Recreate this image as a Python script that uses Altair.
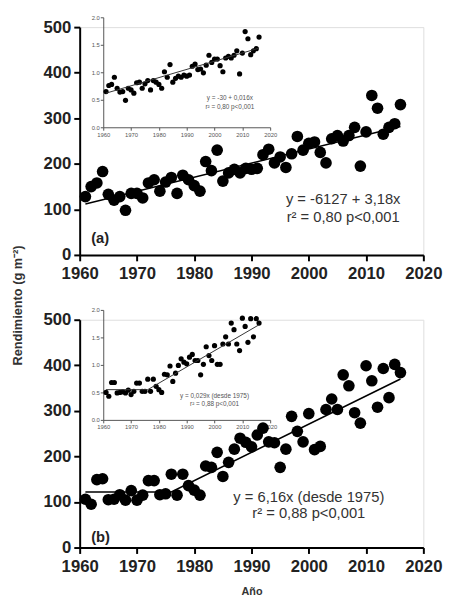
import altair as alt
import pandas as pd

# ---------------- data ----------------
years = list(range(1961, 2017))

a_main = [128, 150, 158, 183, 133, 120, 128, 98, 135, 135,
          125, 158, 165, 140, 160, 170, 135, 175, 165, 152,
          140, 205, 185, 230, 162, 180, 188, 180, 190, 188,
          190, 220, 232, 202, 215, 192, 222, 260, 230, 245,
          248, 225, 202, 255, 262, 250, 262, 280, 195, 270,
          350, 322, 265, 280, 288, 330]

a_inset = [0.65, 0.76, 0.78, 0.91, 0.71, 0.64, 0.65, 0.49, 0.71, 0.68,
           0.62, 0.81, 0.82, 0.71, 0.79, 0.85, 0.68, 0.85, 0.82, 0.78,
           0.71, 1.01, 0.91, 1.14, 0.82, 0.89, 0.93, 0.91, 0.95, 0.93,
           0.95, 1.11, 1.15, 1.05, 1.06, 0.99, 1.13, 1.31, 1.18, 1.24,
           1.24, 1.12, 1.01, 1.26, 1.29, 1.26, 1.31, 1.39, 0.97, 1.35,
           1.74, 1.61, 1.32, 1.39, 1.43, 1.64]

b_main = [106, 95, 149, 151, 105, 106, 116, 104, 125, 104,
          115, 147, 147, 116, 118, 161, 115, 161, 136, 126,
          115, 179, 176, 209, 156, 187, 216, 240, 231, 221,
          247, 262, 232, 230, 176, 216, 288, 255, 232, 294,
          215, 222, 303, 326, 303, 379, 355, 296, 273, 399,
          366, 308, 393, 329, 402, 384]

b_inset = [0.50, 0.43, 0.68, 0.68, 0.49, 0.50, 0.51, 0.49, 0.54, 0.46,
           0.52, 0.67, 0.67, 0.52, 0.52, 0.74, 0.52, 0.74, 0.61, 0.55,
           0.50, 0.83, 0.82, 0.98, 0.70, 0.85, 0.99, 1.11, 1.05, 1.02,
           1.14, 1.19, 1.08, 1.08, 0.82, 1.01, 1.33, 1.17, 1.08, 1.35,
           1.01, 1.01, 1.38, 1.51, 1.38, 1.76, 1.64, 1.38, 1.26, 1.85,
           1.70, 1.41, 1.84, 1.51, 1.84, 1.76]

a_line_years = [1961, 2016]
a_line_vals = [112, 282]
a_inset_line_vals = [0.62, 1.44]

b_line_years = [1961, 1976, 2016]
b_line_vals = [122, 122, 370]
b_inset_line_vals = [0.55, 0.55, 1.73]

x_ticks = [1960, 1970, 1980, 1990, 2000, 2010, 2020]
y_ticks = [0, 100, 200, 300, 400, 500]
inset_y_ticks = [0.0, 0.5, 1.0, 1.5, 2.0]

# ---------------- styling ----------------
FONT = "Liberation Sans"
W, H = 350, 232
INSET_X_RANGE = [24, 194]
INSET_Y_RANGE = [102, -10]


def main_axis(values, fmt, orient, title=None):
    kw = dict(values=values, format=fmt, orient=orient, grid=False,
              labelFont=FONT, labelFontSize=17, labelFontWeight="bold",
              labelColor="#222", domainColor="black", domainWidth=2,
              tickColor="black", tickWidth=2, tickSize=6,
              labelPadding=5 if orient == "bottom" else 3,
              labelOverlap=False, labelFlush=False, title=title)
    if title:
        kw.update(titleFont=FONT, titleFontSize=11, titleFontWeight="bold",
                  titleColor="#333", titlePadding=12)
    return alt.Axis(**kw)


def inset_axis(values, fmt, orient, offset):
    return alt.Axis(values=values, format=fmt, orient=orient, offset=offset,
                    grid=False, labelFont=FONT, labelFontSize=6,
                    labelColor="#555", domainColor="#555", domainWidth=1,
                    tickColor="#555", tickWidth=1, tickSize=3, labelPadding=1,
                    labelOverlap=False, labelFlush=False, title=None)


def panel(main_vals, inset_vals, line_years, line_vals, inset_line_vals,
          texts, inset_texts, tag, x_title=None):
    mx = alt.X("year:Q", scale=alt.Scale(domain=[1960, 2020], nice=False),
               axis=main_axis(x_ticks, "d", "bottom", x_title))
    my = alt.Y("val:Q", scale=alt.Scale(domain=[0, 500], nice=False),
               axis=main_axis(y_ticks, "d", "left"))
    ix = alt.X("year:Q", scale=alt.Scale(domain=[1960, 2020], nice=False,
                                         range=INSET_X_RANGE),
               axis=inset_axis(x_ticks, "d", "bottom", INSET_Y_RANGE[0] - H))
    iy = alt.Y("val:Q", scale=alt.Scale(domain=[0, 2], nice=False,
                                        range=INSET_Y_RANGE),
               axis=inset_axis(inset_y_ticks, ".1f", "left", -INSET_X_RANGE[0]))

    pts = pd.DataFrame({"year": years, "val": main_vals})
    ln = pd.DataFrame({"year": line_years, "val": line_vals})
    ipts = pd.DataFrame({"year": years, "val": inset_vals})
    iln = pd.DataFrame({"year": line_years, "val": inset_line_vals})
    tx = pd.DataFrame(texts, columns=["year", "val", "label"])
    itx = pd.DataFrame(inset_texts, columns=["year", "val", "label"])
    tg = pd.DataFrame([tag], columns=["year", "val", "label"])

    main = alt.layer(
        alt.Chart(pts).mark_circle(size=140, color="black", opacity=1).encode(x=mx, y=my),
        alt.Chart(ln).mark_line(color="black", strokeWidth=1.6).encode(x=mx, y=my),
        alt.Chart(tx).mark_text(font=FONT, fontSize=15, color="#333",
                                align="center", baseline="middle").encode(
            x=mx, y=my, text="label:N"),
        alt.Chart(tg).mark_text(font=FONT, fontSize=15, fontWeight="bold",
                                color="#222", align="left",
                                baseline="middle").encode(
            x=mx, y=my, text="label:N"),
    )
    inset = alt.layer(
        alt.Chart(ipts).mark_circle(size=28, color="black", opacity=1).encode(x=ix, y=iy),
        alt.Chart(iln).mark_line(color="#333", strokeWidth=1).encode(x=ix, y=iy),
        alt.Chart(itx).mark_text(font=FONT, fontSize=6.5, color="#555",
                                 align="center", baseline="middle").encode(
            x=ix, y=iy, text="label:N"),
    )
    return alt.layer(main, inset).resolve_scale(
        x="independent", y="independent").properties(width=W, height=H)


panel_a = panel(
    a_main, a_inset, a_line_years, a_line_vals, a_inset_line_vals,
    [(2006, 122, "y = -6127 + 3,18x"), (2006, 82, "r² = 0,80 p<0,001")],
    [(2005.5, 0.53, "y = -30 + 0,016x"), (2005.5, 0.36, "r² = 0,80 p<0,001")],
    (1962, 36, "(a)"),
)

panel_b = panel(
    b_main, b_inset, b_line_years, b_line_vals, b_inset_line_vals,
    [(2000, 110, "y = 6,16x (desde 1975)"), (2000, 75, "r² = 0,88 p<0,001")],
    [(2000, 0.43, "y = 0,029x (desde 1975)"), (2000, 0.29, "r² = 0,88 p<0,001")],
    (1962, 24, "(b)"),
    x_title="Año",
)

chart = alt.vconcat(
    panel_a, panel_b, spacing=24,
    title=alt.TitleParams(text="Rendimiento (g m⁻²)", orient="left",
                          anchor="middle", font=FONT, fontSize=13,
                          fontWeight="bold", color="#333", offset=18),
).properties(
    padding={"left": 4, "top": 0, "right": 0, "bottom": 0}
).configure_view(stroke=None).configure(background="white")

chart.save("out.html", embed_options={"renderer": "svg", "actions": False})
